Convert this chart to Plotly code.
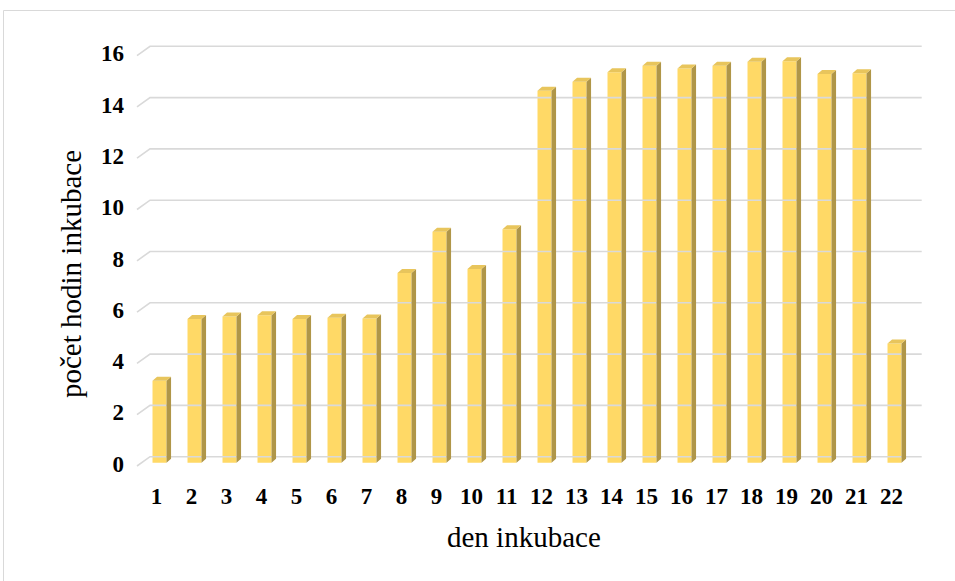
import plotly.graph_objects as go

# Daily incubation hours
days = list(range(1, 23))
hours = [3.2, 5.6, 5.7, 5.75, 5.6, 5.65, 5.62, 7.4, 9.0, 7.55, 9.1, 14.5,
         14.85, 15.22, 15.48, 15.37, 15.48, 15.63, 15.65, 15.15, 15.18, 4.65]
y_ticks = [0, 2, 4, 6, 8, 10, 12, 14, 16]

W, H = 955, 581
ML, MR, MT, MB = 130, 25, 30, 101
X_RANGE = [0.157, 23.014]
Y_RANGE = [-0.674, 16.869]

FRONT = "#FFD966"
TOP = "#E8C55C"
SIDE = "#B09648"
GRID = "#D9D9D9"
FONT = "Liberation Serif"

BAR_W = 0.4      # front face width (category units)
DX, DY = 0.13, 0.156   # bar depth offset
# wall / floor geometry for the gridlines
G_FRONT_X, G_BACK_X, G_END_X = 0.357, 0.729, 22.777
G_FRONT_DY, G_BACK_DY = -0.129, 0.234


def px_x(p):
    return (p - ML) / (W - ML - MR)


def px_y(p):
    return 1 - (p - MT) / (H - MT - MB)


fig = go.Figure()

# back wall gridlines with their short floor stubs
gx, gy = [], []
for v in y_ticks:
    gx += [G_FRONT_X, G_BACK_X, G_END_X, None]
    gy += [v + G_FRONT_DY, v + G_BACK_DY, v + G_BACK_DY, None]
fig.add_trace(go.Scatter(x=gx, y=gy, mode="lines",
                         line=dict(color=GRID, width=1.6),
                         hoverinfo="skip", showlegend=False))

# side faces of the bars
sx, sy = [], []
for d, h in zip(days, hours):
    r = d + BAR_W / 2
    sx += [r, r + DX, r + DX, r, r, None]
    sy += [0, DY, h + DY, h, 0, None]
fig.add_trace(go.Scatter(x=sx, y=sy, mode="lines", fill="toself",
                         fillcolor=SIDE, line=dict(width=0),
                         hoverinfo="skip", showlegend=False))

# top faces of the bars
tx, ty = [], []
for d, h in zip(days, hours):
    l, r = d - BAR_W / 2, d + BAR_W / 2
    tx += [l, r, r + DX, l + DX, l, None]
    ty += [h, h, h + DY, h + DY, h, None]
fig.add_trace(go.Scatter(x=tx, y=ty, mode="lines", fill="toself",
                         fillcolor=TOP, line=dict(width=0),
                         hoverinfo="skip", showlegend=False))

# front faces
fig.add_trace(go.Bar(x=days, y=hours, width=BAR_W,
                     marker=dict(color=FRONT, line=dict(width=0)),
                     showlegend=False))

fig.update_layout(
    width=W, height=H,
    margin=dict(l=ML, r=MR, t=MT, b=MB),
    paper_bgcolor="white", plot_bgcolor="white",
    showlegend=False,
    xaxis=dict(range=X_RANGE, tickvals=days, ticktext=[str(d) for d in days],
               showgrid=False, zeroline=False, showline=False, ticks="",
               tickfont=dict(family=FONT, size=23, color="black", weight="bold"),
               ticklabelshift=-3, ticklabelstandoff=0),
    yaxis=dict(range=Y_RANGE, tickvals=y_ticks, ticktext=[str(v) for v in y_ticks],
               showgrid=False, zeroline=False, showline=False, ticks="",
               tickfont=dict(family=FONT, size=23, color="black", weight="bold"),
               ticklabelshift=1, ticklabelstandoff=5),
    annotations=[
        dict(text="den inkubace", xref="paper", yref="paper",
             x=px_x(524), y=px_y(537), xanchor="center", yanchor="middle",
             showarrow=False, font=dict(family=FONT, size=29, color="black")),
        dict(text="počet hodin inkubace", xref="paper", yref="paper",
             x=px_x(71), y=px_y(274), xanchor="center", yanchor="middle",
             textangle=-90, showarrow=False,
             font=dict(family=FONT, size=29, color="black")),
    ],
    shapes=[
        dict(type="line", xref="paper", yref="paper",
             x0=px_x(3.5), x1=px_x(960), y0=px_y(10.5), y1=px_y(10.5),
             line=dict(color=GRID, width=1)),
        dict(type="line", xref="paper", yref="paper",
             x0=px_x(3.5), x1=px_x(3.5), y0=px_y(10.5), y1=px_y(590),
             line=dict(color=GRID, width=1)),
    ],
)

fig.write_html("out.html")
